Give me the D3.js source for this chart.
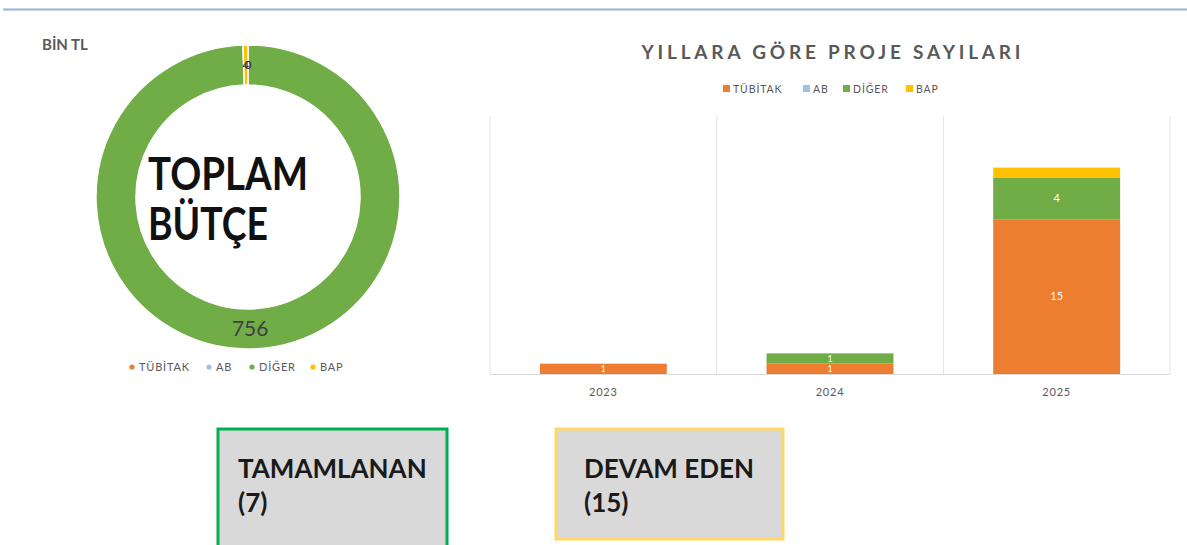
<!DOCTYPE html>
<html>
<head>
<meta charset="utf-8">
<script src="https://cdn.jsdelivr.net/npm/d3@7"></script>
<style>
  body { margin: 0; background: #fff; }
  svg { display: block; font-family: Lato, "Open Sans", sans-serif; }
</style>
</head>
<body>
<svg width="1187" height="545"></svg>
<script>
// data
var categories = ["TÜBİTAK", "AB", "DİĞER", "BAP"];
var budgetValues = [0, 0, 756, 4];          // bin TL
var years = ["2023", "2024", "2025"];
var tubitakCounts = [1, 1, 15];
var abCounts = [0, 0, 0];
var digerCounts = [0, 1, 4];
var bapCounts = [0, 0, 1];
var yTicksMax = 25;
var statusLabels = ["TAMAMLANAN", "DEVAM EDEN"];
var statusCounts = [7, 15];

var colors = ["#ed7d31", "#9dc3e6", "#70ad47", "#ffc000"];

var svg = d3.select("svg"),
    width = +svg.attr("width"),
    height = +svg.attr("height");

// top rule
svg.append("rect").attr("x", 3).attr("y", 8).attr("width", width - 3).attr("height", 3)
  .attr("fill", "#c5d5e8");
svg.append("line").attr("x1", 3).attr("x2", width).attr("y1", 9.5).attr("y2", 9.5)
  .attr("stroke", "#9fb6d2").attr("stroke-width", 1);

// ---- donut ----
svg.append("text").attr("x", 42).attr("y", 50)
  .attr("font-size", 15).attr("font-weight", 700).attr("fill", "#595959")
  .text("BİN TL");

var cx = 248, cy = 197, rOut = 152, rIn = 112;
var pie = d3.pie().sort(null).value(function(d){ return d.v; });
var arc = d3.arc().innerRadius(rIn).outerRadius(rOut);
var donutData = pie(categories.map(function(c, i){ return {c: c, v: budgetValues[i], i: i}; }));

var dg = svg.append("g").attr("transform", "translate(" + cx + "," + cy + ")");
dg.selectAll("path")
  .data(donutData)
  .enter()
  .append("path")
    .attr("d", arc)
    .attr("fill", function(d){ return colors[d.data.i]; })
    .attr("stroke", "#fff")
    .attr("stroke-width", function(d){ return d.data.v > 0 ? 1.5 : 0; });

dg.selectAll("text.lbl")
  .data(donutData)
  .enter()
  .append("text")
    .attr("class", "lbl")
    .attr("transform", function(d){ return "translate(" + arc.centroid(d) + ")"; })
    .attr("text-anchor", "middle")
    .attr("dy", "0.35em")
    .attr("font-size", function(d){ return d.data.v > 50 ? 21 : 12; })
    .attr("fill", "#404040")
    .text(function(d){ return d.data.v; });

svg.append("text").attr("x", 148).attr("y", 190)
  .attr("font-size", 45).attr("font-weight", 700).attr("fill", "#111")
  .attr("textLength", 160).attr("lengthAdjust", "spacingAndGlyphs")
  .text("TOPLAM");
svg.append("text").attr("x", 148).attr("y", 240)
  .attr("font-size", 45).attr("font-weight", 700).attr("fill", "#111")
  .attr("textLength", 120).attr("lengthAdjust", "spacingAndGlyphs")
  .text("BÜTÇE");

// donut legend
var legX = [129, 206, 249, 310];
var dl = svg.append("g");
categories.forEach(function(c, i){
  dl.append("circle").attr("cx", legX[i] + 3).attr("cy", 367).attr("r", 2.6).attr("fill", colors[i]);
  dl.append("text").attr("x", legX[i] + 10).attr("y", 371)
    .attr("font-size", 11).attr("letter-spacing", 0.8).attr("fill", "#595959").text(c);
});

// ---- stacked bars ----
svg.append("text").attr("x", 831).attr("y", 59)
  .attr("text-anchor", "middle")
  .attr("font-size", 19).attr("font-weight", 700).attr("fill", "#595959")
  .attr("textLength", 379).attr("lengthAdjust", "spacing")
  .text("YILLARA GÖRE PROJE SAYILARI");

var barLegX = [723, 803, 843, 906];
categories.forEach(function(c, i){
  svg.append("rect").attr("x", barLegX[i]).attr("y", 85).attr("width", 7).attr("height", 7).attr("fill", colors[i]);
  svg.append("text").attr("x", barLegX[i] + 10).attr("y", 92.5)
    .attr("font-size", 10.5).attr("letter-spacing", 0.9).attr("fill", "#595959").text(c);
});

var x = d3.scaleBand().domain(years).range([490, 1170]).paddingInner(0.44).paddingOuter(0.22);
var y = d3.scaleLinear().domain([0, yTicksMax]).range([374, 116]);

// vertical gridlines at category boundaries
var step = x.step();
var gx = d3.range(years.length + 1).map(function(i){ return 490 + i * step; });
svg.append("g").selectAll("line")
  .data(gx)
  .enter()
  .append("line")
    .attr("x1", function(d){ return d; }).attr("x2", function(d){ return d; })
    .attr("y1", y(yTicksMax)).attr("y2", y(0))
    .attr("stroke", "#e3e3e3").attr("stroke-width", 1);

var table = years.map(function(yr, i){
  return {year: yr, "TÜBİTAK": tubitakCounts[i], "AB": abCounts[i], "DİĞER": digerCounts[i], "BAP": bapCounts[i]};
});
var series = d3.stack().keys(categories)(table);

var bg = svg.append("g");
series.forEach(function(s, si){
  var g = bg.append("g").attr("fill", colors[si]);
  g.selectAll("rect")
    .data(s.filter(function(d){ return d[1] > d[0]; }))
    .enter()
    .append("rect")
      .attr("x", function(d){ return x(d.data.year); })
      .attr("width", x.bandwidth())
      .attr("y", function(d){ return y(d[1]); })
      .attr("height", function(d){ return y(d[0]) - y(d[1]); });
  if (s.key !== "BAP") {
    bg.append("g").selectAll("text")
      .data(s.filter(function(d){ return d[1] > d[0]; }))
      .enter()
      .append("text")
        .attr("x", function(d){ return x(d.data.year) + x.bandwidth() / 2; })
        .attr("y", function(d){ return (y(d[0]) + y(d[1])) / 2; })
        .attr("dy", "0.35em")
        .attr("text-anchor", "middle")
        .attr("font-size", function(d){ return Math.min(11, y(d[0]) - y(d[1]) - 1.5); })
        .attr("fill", "#fff")
        .text(function(d){ return d[1] - d[0]; });
  }
});

// x axis
svg.append("line").attr("x1", 490).attr("x2", 1170).attr("y1", y(0) + 0.5).attr("y2", y(0) + 0.5)
  .attr("stroke", "#d9d9d9");
svg.append("g").selectAll("text")
  .data(years)
  .enter()
  .append("text")
    .attr("x", function(d){ return x(d) + x.bandwidth() / 2; })
    .attr("y", 396)
    .attr("text-anchor", "middle")
    .attr("font-size", 11).attr("fill", "#595959").attr("letter-spacing", 0.8)
    .text(function(d){ return d; });

// ---- status boxes ----
var boxX = [218, 556], boxW = [229, 227], boxH = [130, 110];
var boxStroke = ["#00b050", "#ffd966"];
statusLabels.forEach(function(lbl, i){
  svg.append("rect").attr("x", boxX[i]).attr("y", 429).attr("width", boxW[i]).attr("height", boxH[i])
    .attr("fill", "#d9d9d9").attr("stroke", boxStroke[i]).attr("stroke-width", 3);
  svg.append("text").attr("x", boxX[i] + (i === 0 ? 20 : 28)).attr("y", 478)
    .attr("font-size", 26).attr("font-weight", 700).attr("fill", "#1a1a1a").text(lbl);
  svg.append("text").attr("x", boxX[i] + (i === 0 ? 20 : 28)).attr("y", 512)
    .attr("font-size", 26).attr("font-weight", 700).attr("fill", "#1a1a1a").text("(" + statusCounts[i] + ")");
});
</script>
</body>
</html>
